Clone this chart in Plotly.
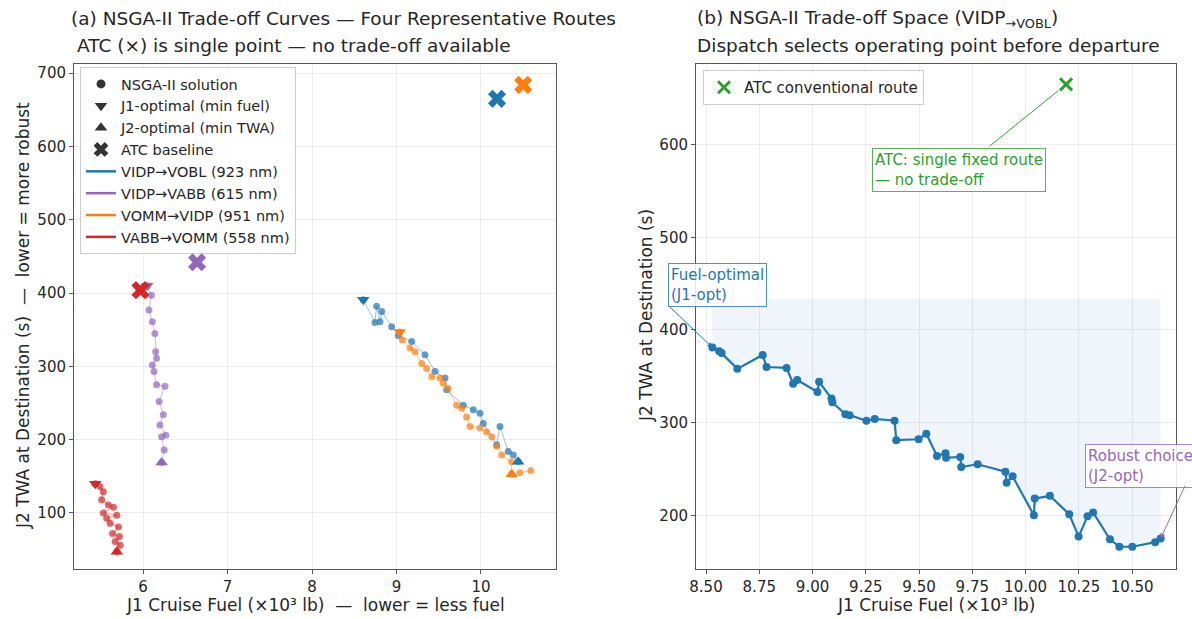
import plotly.graph_objects as go
import numpy as np

# ---------------- data ----------------
# Panel (a): four routes
VOBL_J1 = [8.607, 8.745, 8.765, 8.805, 8.825, 8.943, 9.021, 9.18, 9.337, 9.456, 9.574, 9.594, 9.79, 9.909, 9.988, 10.027, 10.186, 10.225, 10.323, 10.382, 10.44]
VOBL_J2 = [391, 360, 382, 361, 375, 354, 342, 334, 316, 293, 284, 268, 247, 241, 236, 222, 193, 218, 184, 179, 170]

VABB_J1 = [6.05, 6.10, 6.07, 6.11, 6.14, 6.15, 6.16, 6.11, 6.13, 6.16, 6.26, 6.19, 6.24, 6.20, 6.27, 6.22, 6.25, 6.22]
VABB_J2 = [410, 397, 377, 361, 345, 320, 311, 302, 293, 275, 273, 252, 234, 220, 206, 204, 186, 169]

VIDP_J1 = [9.04, 9.07, 9.16, 9.22, 9.298, 9.357, 9.417, 9.515, 9.554, 9.613, 9.712, 9.772, 9.83, 9.87, 9.988, 10.067, 10.127, 10.186, 10.245, 10.363, 10.363, 10.46, 10.59]
VIDP_J2 = [347, 336, 325, 320, 304, 297, 286, 284, 277, 270, 247, 243, 231, 218, 216, 211, 204, 191, 179, 170, 153, 155, 158]

VOMM_J1 = [5.435, 5.49, 5.53, 5.51, 5.59, 5.65, 5.53, 5.69, 5.57, 5.61, 5.71, 5.64, 5.72, 5.67, 5.73, 5.69]
VOMM_J2 = [140, 136, 129, 118, 111, 108, 100, 97, 93, 86, 81, 72, 68, 61, 56, 47]

ROUTE_NAMES = ["VIDP→VOBL (923 nm)", "VIDP→VABB (615 nm)", "VOMM→VIDP (951 nm)", "VABB→VOMM (558 nm)"]
ATC_J1 = [10.19, 6.64, 10.50, 5.97]
ATC_J2 = [665, 442, 684, 404]

# Panel (b): VIDP→VOBL trade-off
R_J1 = [8.530, 8.562, 8.573, 8.647, 8.766, 8.784, 8.878, 8.909, 8.928, 9.023, 9.031, 9.089, 9.093, 9.154, 9.174, 9.253, 9.292, 9.385, 9.393, 9.498, 9.534, 9.584, 9.624, 9.627, 9.693, 9.698, 9.775, 9.905, 9.911, 9.939, 10.039, 10.043, 10.114, 10.205, 10.249, 10.291, 10.317, 10.396, 10.440, 10.501, 10.608, 10.634]
R_J2 = [381, 377, 375, 358, 373, 360, 359, 342, 346, 333, 344, 326, 322, 309, 308, 302, 304, 302, 281, 282, 288, 264, 267, 262, 263, 252, 255, 247, 235, 242, 200, 218, 221, 201, 177, 199, 203, 174, 166, 166, 171, 175]
R_ATC_J1 = [10.19]
R_ATC_J2 = [665]
FILL_TOP = 433

X1_TICKS = [6, 7, 8, 9, 10]
Y1_TICKS = [100, 200, 300, 400, 500, 600, 700]
X2_TICKS = [8.50, 8.75, 9.00, 9.25, 9.50, 9.75, 10.00, 10.25, 10.50]
Y2_TICKS = [200, 300, 400, 500, 600]

# ---------------- styles ----------------
COLORS = ["#1f77b4", "#9467bd", "#ff7f0e", "#d62728"]
GREEN = "#2ca02c"
FONT = "DejaVu Sans"
TXT = "#262626"

def rgba(hexc, a):
    h = hexc.lstrip("#")
    return "rgba(%d,%d,%d,%.3f)" % (int(h[0:2], 16), int(h[2:4], 16), int(h[4:6], 16), a)

fig = go.Figure()

routes = [(VOBL_J1, VOBL_J2), (VABB_J1, VABB_J2), (VIDP_J1, VIDP_J2), (VOMM_J1, VOMM_J2)]
for (j1, j2), col in zip(routes, COLORS):
    fig.add_trace(go.Scatter(x=j1, y=j2, mode="lines+markers", xaxis="x", yaxis="y",
                             line=dict(color=rgba(col, 0.45), width=1),
                             marker=dict(color=rgba(col, 0.7), size=7, symbol="circle"),
                             showlegend=False, hoverinfo="skip"))
for (j1, j2), col in zip(routes, COLORS):
    i1 = int(np.argmin(j1)); i2 = int(np.argmin(j2))
    fig.add_trace(go.Scatter(x=[j1[i1]], y=[j2[i1]], mode="markers", xaxis="x", yaxis="y",
                             marker=dict(color=col, size=11, symbol="triangle-down"),
                             showlegend=False, hoverinfo="skip"))
    fig.add_trace(go.Scatter(x=[j1[i2]], y=[j2[i2]], mode="markers", xaxis="x", yaxis="y",
                             marker=dict(color=col, size=11, symbol="triangle-up"),
                             showlegend=False, hoverinfo="skip"))
fig.add_trace(go.Scatter(x=ATC_J1, y=ATC_J2, mode="markers", xaxis="x", yaxis="y",
                         marker=dict(color=COLORS, size=16, symbol="x", line=dict(width=0)),
                         showlegend=False, hoverinfo="skip"))

# legend entries panel (a)
LEG_MARK = [("NSGA-II solution", "circle", 9), ("J1-optimal (min fuel)", "triangle-down", 11),
            ("J2-optimal (min TWA)", "triangle-up", 11), ("ATC baseline", "x", 13)]
for k, (name, sym, sz) in enumerate(LEG_MARK):
    fig.add_trace(go.Scatter(x=[None], y=[None], mode="markers", xaxis="x", yaxis="y", name=name,
                             marker=dict(color="#333333", size=sz, symbol=sym),
                             legend="legend"))
for k, (name, col) in enumerate(zip(ROUTE_NAMES, COLORS)):
    fig.add_trace(go.Scatter(x=[None], y=[None], mode="lines", xaxis="x", yaxis="y", name=name,
                             line=dict(color=col, width=2.5),
                             legend="legend"))

# panel (b)
fig.add_trace(go.Scatter(x=R_J1, y=[FILL_TOP] * len(R_J1), mode="lines", xaxis="x2", yaxis="y2",
                         line=dict(width=0, color="rgba(0,0,0,0)"), showlegend=False, hoverinfo="skip"))
fig.add_trace(go.Scatter(x=R_J1, y=R_J2, mode="lines", xaxis="x2", yaxis="y2", fill="tonexty",
                         fillcolor=rgba(COLORS[0], 0.07), line=dict(width=0, color="rgba(0,0,0,0)"),
                         showlegend=False, hoverinfo="skip"))
fig.add_trace(go.Scatter(x=R_J1, y=R_J2, mode="lines+markers", xaxis="x2", yaxis="y2",
                         line=dict(color=COLORS[0], width=2.2),
                         marker=dict(color=COLORS[0], size=8),
                         showlegend=False, hoverinfo="skip"))
fig.add_trace(go.Scatter(x=R_ATC_J1, y=R_ATC_J2, mode="markers", xaxis="x2", yaxis="y2",
                         name="ATC conventional route", legend="legend2",
                         marker=dict(color=GREEN, size=12, symbol="x-thin", line=dict(width=3, color=GREEN))))

# ---------------- layout ----------------
L, R, T, B = 74, 16, 64, 50
W, H = 1192, 619
PW, PH = W - L - R, H - T - B
def px(xp): return (xp - L) / PW
def py(yp): return 1 - (yp - T) / PH

axis_common = dict(showline=True, mirror=True, linecolor="#555555", linewidth=1,
                   ticks="outside", ticklen=4, tickcolor="#555555",
                   showgrid=True, gridcolor="#ececec", gridwidth=1, zeroline=False,
                   tickfont=dict(family=FONT, size=15, color=TXT))

fig.update_layout(
    width=W, height=H, margin=dict(l=L, r=R, t=T, b=B),
    paper_bgcolor="white", plot_bgcolor="white",
    font=dict(family=FONT, color=TXT),
    xaxis=dict(domain=[0, px(556)], range=[5.183, 10.888], tickvals=X1_TICKS, anchor="y", **axis_common),
    yaxis=dict(domain=[0, 1], range=[23.6, 712.5], tickvals=Y1_TICKS, anchor="x", **axis_common),
    xaxis2=dict(domain=[px(696), 1], range=[8.453, 10.706], tickvals=X2_TICKS, tickformat=".2f", anchor="y2", **axis_common),
    yaxis2=dict(domain=[0, 1], range=[142, 687], tickvals=Y2_TICKS, anchor="x2", **axis_common),
    legend=dict(x=px(80), y=py(67), xanchor="left", yanchor="top", bgcolor="rgba(255,255,255,0.85)",
                bordercolor="#cccccc", borderwidth=1, font=dict(family=FONT, size=14.5, color=TXT),
                traceorder="normal", itemwidth=30),
    legend2=dict(x=px(703), y=py(70), xanchor="left", yanchor="top", bgcolor="rgba(255,255,255,0.85)",
                 bordercolor="#cccccc", borderwidth=1, font=dict(family=FONT, size=15, color=TXT)),
)

ann = []
TF = dict(family=FONT, size=18.5, color=TXT)
ann.append(dict(text="(a) NSGA-II Trade-off Curves — Four Representative Routes", xref="paper", yref="paper",
                x=px(69), y=py(19), xanchor="left", yanchor="middle", showarrow=False, font=TF))
ann.append(dict(text="ATC (×) is single point — no trade-off available", xref="paper", yref="paper",
                x=px(75), y=py(46), xanchor="left", yanchor="middle", showarrow=False, font=TF))
ann.append(dict(text="(b) NSGA-II Trade-off Space (VIDP<sub>→VOBL</sub>)", xref="paper", yref="paper",
                x=px(695), y=py(19), xanchor="left", yanchor="middle", showarrow=False, font=TF))
ann.append(dict(text="Dispatch selects operating point before departure", xref="paper", yref="paper",
                x=px(695), y=py(46), xanchor="left", yanchor="middle", showarrow=False, font=TF))
LF = dict(family=FONT, size=17, color=TXT)
ann.append(dict(text="J1 Cruise Fuel (×10³ lb)  —  lower = less fuel", xref="paper", yref="paper",
                x=px(315), y=py(605), xanchor="center", yanchor="middle", showarrow=False, font=LF))
ann.append(dict(text="J1 Cruise Fuel (×10³ lb)", xref="paper", yref="paper",
                x=px(936), y=py(605), xanchor="center", yanchor="middle", showarrow=False, font=LF))
ann.append(dict(text="J2 TWA at Destination (s)  —  lower = more robust", xref="paper", yref="paper",
                x=px(23), y=py(316), xanchor="center", yanchor="middle", textangle=-90, showarrow=False, font=LF))
ann.append(dict(text="J2 TWA at Destination (s)", xref="paper", yref="paper",
                x=px(646), y=py(316), xanchor="center", yanchor="middle", textangle=-90, showarrow=False, font=LF))

CF = 15
# Fuel-optimal callout
ann.append(dict(text="Fuel-optimal<br>(J1-opt)", x=R_J1[0], y=R_J2[0], xref="x2", yref="y2",
                xshift=5, yshift=63, showarrow=False, align="left",
                font=dict(family=FONT, size=CF, color=COLORS[0]),
                bgcolor="rgba(255,255,255,0.85)", bordercolor=rgba(COLORS[0], 0.8), borderwidth=1, borderpad=2))
ann.append(dict(text="", x=R_J1[0], y=R_J2[0], xref="x2", yref="y2", ax=-44, ay=-42,
                showarrow=True, arrowhead=2, arrowsize=1, arrowwidth=1, arrowcolor=COLORS[0]))
# Robust choice callout
ann.append(dict(text="Robust choice<br>(J2-opt)", x=R_J1[-1], y=R_J2[-1], xref="x2", yref="y2",
                xshift=-20, yshift=72, showarrow=False, align="left",
                font=dict(family=FONT, size=CF, color=COLORS[1]),
                bgcolor="rgba(255,255,255,0.85)", bordercolor=rgba(COLORS[1], 0.8), borderwidth=1, borderpad=2))
ann.append(dict(text="", x=R_J1[-1], y=R_J2[-1], xref="x2", yref="y2", ax=25, ay=-54,
                showarrow=True, arrowhead=2, arrowsize=1, arrowwidth=1, arrowcolor=COLORS[1]))
# ATC callout
ann.append(dict(text="ATC: single fixed route<br>— no trade-off", x=R_ATC_J1[0], y=R_ATC_J2[0], xref="x2", yref="y2",
                xshift=-107, yshift=-86, showarrow=False, align="left",
                font=dict(family=FONT, size=CF, color=GREEN),
                bgcolor="rgba(255,255,255,0.85)", bordercolor=rgba(GREEN, 0.8), borderwidth=1, borderpad=2))
ann.append(dict(text="", x=R_ATC_J1[0], y=R_ATC_J2[0], xref="x2", yref="y2", ax=-78, ay=63,
                showarrow=True, arrowhead=0, arrowwidth=1, arrowcolor=GREEN, standoff=10))

fig.update_layout(annotations=ann)
fig.write_html("out.html")
